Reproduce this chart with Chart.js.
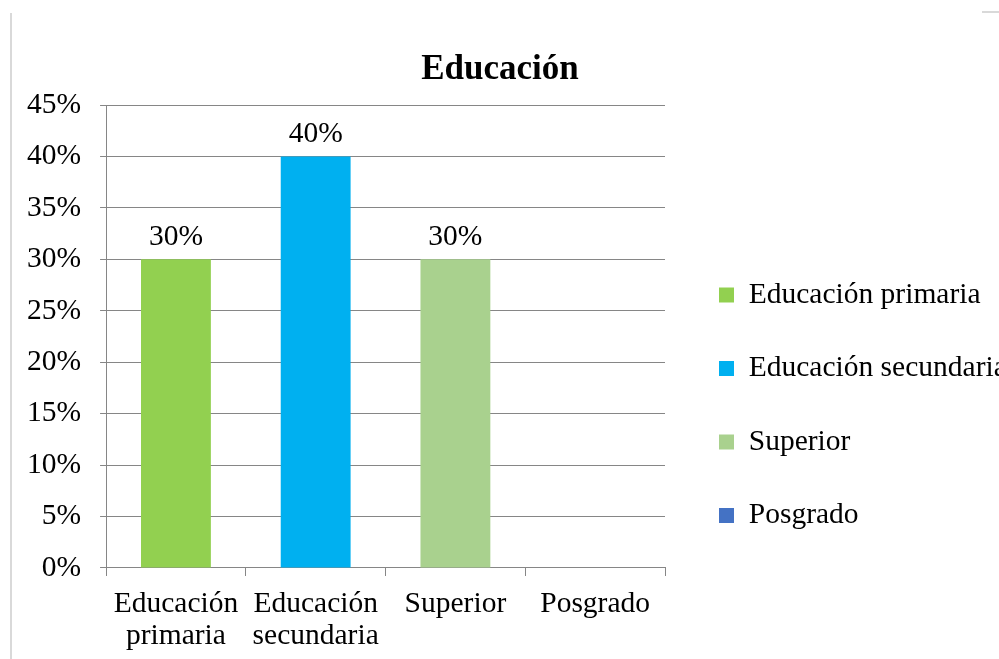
<!DOCTYPE html>
<html>
<head>
<meta charset="utf-8">
<script src="https://cdn.jsdelivr.net/npm/chart.js@4.4.0/dist/chart.umd.min.js"></script>
<style>
  html, body { margin: 0; padding: 0; background: #fff; overflow: hidden; }
  #wrap { position: relative; width: 999px; height: 659px; overflow: hidden; }
  #myChart { position: absolute; left: 0; top: 0; }
  .frameL { position: absolute; left: 10px; top: 13px; width: 2px; height: 646px; background: #d9d9d9; }
  .frameT { position: absolute; left: 982px; top: 11px; width: 17px; height: 2px; background: #d9d9d9; }
</style>
</head>
<body>
<div id="wrap">
  <canvas id="myChart" width="999" height="659"></canvas>
  <div class="frameL"></div>
  <div class="frameT"></div>
</div>
<script>
var categories = [['Educación', 'primaria'], ['Educación', 'secundaria'], 'Superior', 'Posgrado'];
var legendNames = ['Educación primaria', 'Educación secundaria', 'Superior', 'Posgrado'];
var values = [30, 40, 30, 0];
var colors = ['#92d050', '#00b0f0', '#a9d18e', '#4472c4'];
var yTicks = [0, 5, 10, 15, 20, 25, 30, 35, 40, 45];

var serif = '"Liberation Serif", "Times New Roman", serif';
var fs = 29.5;

// labels over the bars, like excel
var barLabels = {
    id: 'barLabels',
    afterDatasetsDraw: function(chart) {
        var ctx = chart.ctx;
        var meta = chart.getDatasetMeta(0);
        ctx.save();
        ctx.font = fs + 'px ' + serif;
        ctx.fillStyle = '#000';
        ctx.textAlign = 'center';
        ctx.textBaseline = 'alphabetic';
        meta.data.forEach(function(bar, i) {
            if (!values[i]) return;
            ctx.fillText(values[i] + '%', bar.x, bar.y - 14);
        });
        ctx.restore();
    }
};

// nudge the legend a bit away from the plot
var legendNudge = {
    id: 'legendNudge',
    afterLayout: function(chart) {
        chart.legend.left += 10;
        chart.legend.right += 10;
    }
};

var ctx = document.getElementById('myChart').getContext('2d');
var myChart = new Chart(ctx, {
    type: 'bar',
    data: {
        labels: categories,
        datasets: [{
            label: 'Educación',
            data: values,
            backgroundColor: colors,
            barPercentage: 0.5,
            categoryPercentage: 1.0
        }]
    },
    options: {
        responsive: false,
        animation: false,
        layout: {
            padding: { left: 8, right: 7, top: 49, bottom: -5 }
        },
        plugins: {
            title: {
                display: true,
                text: 'Educación',
                color: '#000',
                font: { family: serif, size: 35, weight: 'bold' },
                padding: { top: 0, bottom: 14 }
            },
            legend: {
                position: 'right',
                align: 'center',
                maxWidth: 327,
                title: { display: true, text: ' ', padding: { top: 73.5, bottom: 0 }, font: { size: 20 } },
                labels: {
                    color: '#000',
                    font: { family: serif, size: fs },
                    boxWidth: 15,
                    boxHeight: 15,
                    padding: 44,
                    generateLabels: function(chart) {
                        return legendNames.map(function(name, i) {
                            return {
                                text: name,
                                fillStyle: colors[i],
                                strokeStyle: colors[i],
                                fontColor: '#000',
                                lineWidth: 0,
                                index: i
                            };
                        });
                    }
                },
                onClick: function() {}
            },
            tooltip: { enabled: false }
        },
        scales: {
            y: {
                min: 0,
                max: 45,
                afterBuildTicks: function(axis) {
                    axis.ticks = yTicks.map(function(v) { return { value: v }; });
                },
                ticks: {
                    color: '#000',
                    font: { family: serif, size: fs },
                    padding: 19,
                    callback: function(v) { return v + '%'; }
                },
                grid: {
                    color: '#868686',
                    lineWidth: 1,
                    tickLength: 6
                },
                border: { color: '#868686' }
            },
            x: {
                ticks: {
                    color: '#000',
                    font: { family: serif, size: fs, lineHeight: 1.085 },
                    padding: 12,
                    maxRotation: 0,
                    autoSkip: false
                },
                grid: {
                    offset: true,
                    drawOnChartArea: false,
                    color: '#868686',
                    tickLength: 8
                },
                border: { color: '#868686' }
            }
        }
    },
    plugins: [barLabels, legendNudge]
});
</script>
</body>
</html>
